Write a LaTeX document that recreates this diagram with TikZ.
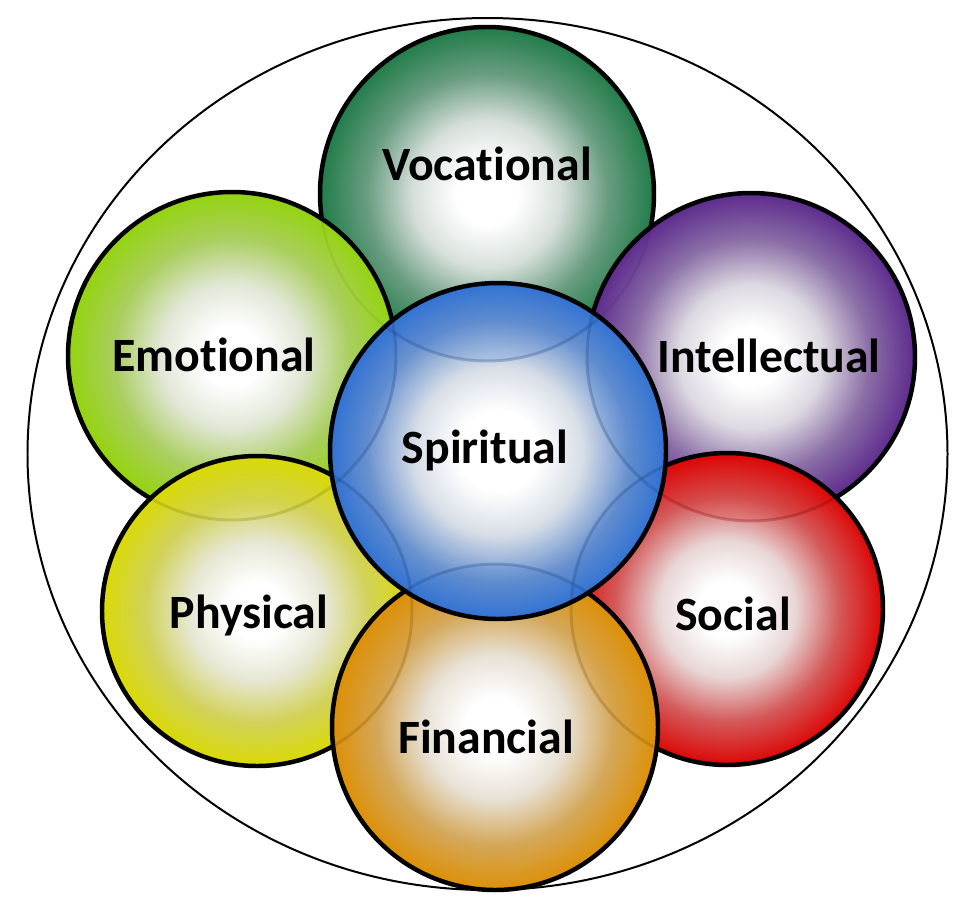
\documentclass[tikz,border=0pt]{standalone}
\usepackage{fontspec}
\setmainfont{Carlito}[Ligatures=NoCommon]
\definecolor{cVoc}{RGB}{28,122,70}
\definecolor{cEmo}{RGB}{146,212,8}
\definecolor{cInt}{RGB}{90,38,140}
\definecolor{cPhy}{RGB}{218,218,0}
\definecolor{cSoc}{RGB}{222,0,0}
\definecolor{cFin}{RGB}{222,142,0}
\definecolor{cSpi}{RGB}{42,110,212}
\colorlet{lgr}{black!22}
% radial shading per colour (circle radius maps to about 35.4bp)
\newcommand\mkshade[1]{%
  \pgfdeclareradialshading{ball#1}{\pgfpointorigin}{%
    color(0bp)=(white); color(4.5bp)=(white);
    color(11bp)=(c#1!18!lgr!45!white);
    color(18bp)=(c#1!55!lgr);
    color(25.5bp)=(c#1); color(50bp)=(c#1)}}
\mkshade{Voc}\mkshade{Emo}\mkshade{Int}\mkshade{Phy}\mkshade{Soc}\mkshade{Fin}
\pgfdeclareradialshading{ballSpi}{\pgfpointorigin}{%
    color(0bp)=(white); color(6bp)=(white);
    color(12.5bp)=(cSpi!20!lgr!45!white);
    color(19.5bp)=(cSpi!60!lgr);
    color(26bp)=(cSpi); color(50bp)=(cSpi)}
\tikzset{
  rim/.style={draw=black, line width=4.5},
  label/.style={font=\fontsize{48}{52}\selectfont\bfseries, text=black, anchor=base, inner sep=0pt},
  ghost/.style={draw=#1!60!black, line width=3, draw opacity=0.28},
  faintghost/.style={draw=#1!60!black, line width=2.5, draw opacity=0.12},
  overlap/.style={fill=#1, fill opacity=0.15}
}
% ball: x, y, r, name
\newcommand\myball[4]{%
  \shade[shading=ball#4] (#1,#2) circle[radius=#3];
}
% under-circle seen through: upper x,y,r,colour ; lower x,y,r
\newcommand\myghost[7]{%
  \begin{scope}
    \clip (#1,#2) circle[radius=#3];
    \fill[overlap=#4] (#5,#6) circle[radius=#7];
    \draw[ghost=#4] (#5,#6) circle[radius=#7];
  \end{scope}
}
\newcommand\myfaint[7]{%
  \begin{scope}
    \clip (#1,#2) circle[radius=#3];
    \draw[faintghost=#4] (#5,#6) circle[radius=#7];
  \end{scope}
}
\newcommand\myrim[3]{\draw[rim] (#1,#2) circle[radius=#3];}
\begin{document}
\begin{tikzpicture}[x=1bp,y=-1bp]
\fill[white] (0,0) rectangle (980,922);
\useasboundingbox (0,0) rectangle (980,922);
% outer ring
\draw[line width=2] (487.5,454) ellipse[x radius=460, y radius=436];
% Vocational
\myball{487}{194}{167}{Voc}
\myrim{487}{194}{167}
% Emotional
\myball{232}{356}{164}{Emo}
\myfaint{232}{356}{164}{cEmo}{487}{194}{167}
\myrim{232}{356}{164}
% Intellectual
\myball{751}{357}{164}{Int}
\myfaint{751}{357}{164}{cInt}{487}{194}{167}
\myrim{751}{357}{164}
% Physical
\myball{257}{611}{155}{Phy}
\myghost{257}{611}{155}{cPhy}{232}{356}{164}
\myrim{257}{611}{155}
% Social
\myball{727}{609}{156}{Soc}
\myghost{727}{609}{156}{cSoc}{751}{357}{164}
\myrim{727}{609}{156}
% Financial
\myball{495}{727}{163}{Fin}
\myghost{495}{727}{163}{cFin}{257}{611}{155}
\myghost{495}{727}{163}{cFin}{727}{609}{156}
\myrim{495}{727}{163}
% Spiritual
\myball{498}{451}{168}{Spi}
\myghost{498}{451}{168}{cSpi}{487}{194}{167}
\myghost{498}{451}{168}{cSpi}{232}{356}{164}
\myghost{498}{451}{168}{cSpi}{751}{357}{164}
\myghost{498}{451}{168}{cSpi}{257}{611}{155}
\myghost{498}{451}{168}{cSpi}{727}{609}{156}
\myghost{498}{451}{168}{cSpi}{495}{727}{163}
\myrim{498}{451}{168}
% labels
\node[label] (lVoc) at (487,180) {Vocational};
\node[label] (lEmo) at (214,371) {Emotional};
\node[label] (lInt) at (769,372) {Intellectual};
\node[label] (lSpi) at (485,463) {Spiritual};
\node[label] (lPhy) at (249,628) {Physical};
\node[label] (lSoc) at (733,630) {Social};
\node[label] (lFin) at (486,753) {Financial};
\end{tikzpicture}
\end{document}
